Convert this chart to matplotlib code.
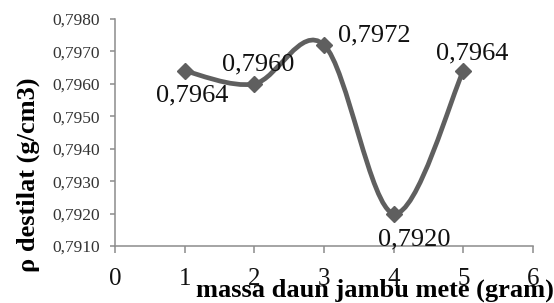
import numpy as np
import matplotlib
matplotlib.use('Agg')
import matplotlib.pyplot as plt
from matplotlib.path import Path
from matplotlib.patches import PathPatch
from matplotlib.ticker import FuncFormatter

plt.rcParams['font.family'] = ['Liberation Serif', 'DejaVu Serif']

# data
massa = [1, 2, 3, 4, 5]
densitas = [0.7964, 0.7960, 0.7972, 0.7920, 0.7964]
labels = ['0,7964', '0,7960', '0,7972', '0,7920', '0,7964']
# label offsets (pixels) from each point
label_offsets = [(8, -25), (4, 19), (50, 9), (21, -26), (9, 17)]

y_ticks = [0.7910, 0.7920, 0.7930, 0.7940, 0.7950, 0.7960, 0.7970, 0.7980]
x_ticks = [0, 1, 2, 3, 4, 5, 6]

line_color = '#5f5f5f'
axis_color = '#8c8c8c'

fig = plt.figure(figsize=(5.54, 3.03), dpi=100)
ax = fig.add_axes([115 / 554, 57 / 303, 418 / 554, 227 / 303])

# smoothed line (Excel-like bezier through the points)
pts = np.column_stack([massa, densitas])
verts = [pts[0]]
codes = [Path.MOVETO]
n = len(pts)
for i in range(n - 1):
    p_prev = pts[i - 1] if i > 0 else pts[i]
    p_next2 = pts[i + 2] if i + 2 < n else pts[i + 1]
    c1 = pts[i] + (pts[i + 1] - p_prev) / 6
    c2 = pts[i + 1] - (p_next2 - pts[i]) / 6
    verts += [c1, c2, pts[i + 1]]
    codes += [Path.CURVE4] * 3
curve = PathPatch(Path(verts, codes), facecolor='none', edgecolor=line_color,
                  lw=3.4, capstyle='round', joinstyle='round', zorder=2)
ax.add_patch(curve)
ax.plot(massa, densitas, linestyle='none', marker='D', markersize=8,
        color=line_color, zorder=3)

for x, y, lab, off in zip(massa, densitas, labels, label_offsets):
    ax.annotate(lab, (x, y), xytext=off, textcoords='offset pixels',
                ha='center', va='center', fontsize=19, color='#111111')

ax.set_xlim(0, 6)
ax.set_ylim(0.7910, 0.7980)
ax.set_xticks(x_ticks)
ax.set_yticks(y_ticks)
ax.yaxis.set_major_formatter(FuncFormatter(lambda v, p: f'{v:.4f}'.replace('.', ',')))

for s in ['top', 'right']:
    ax.spines[s].set_visible(False)
for s in ['left', 'bottom']:
    ax.spines[s].set_color(axis_color)
    ax.spines[s].set_linewidth(1.1)
ax.tick_params(axis='y', direction='out', length=3.6, width=1.1, color=axis_color,
               pad=7, labelsize=12.5, labelcolor='#333333')
ax.tick_params(axis='x', direction='out', length=5, width=1.1, color=axis_color,
               pad=11, labelsize=18, labelcolor='#111111')

fig.text(375 / 554, 6 / 303, 'massa daun jambu mete (gram)', ha='center',
         va='baseline', fontsize=19, fontweight='bold')
fig.text(28 / 554, (303 - 175) / 303, 'ρ destilat (g/cm3)', ha='center',
         va='center', rotation=90, fontsize=19, fontweight='bold')

fig.savefig('out.png', dpi=100)
